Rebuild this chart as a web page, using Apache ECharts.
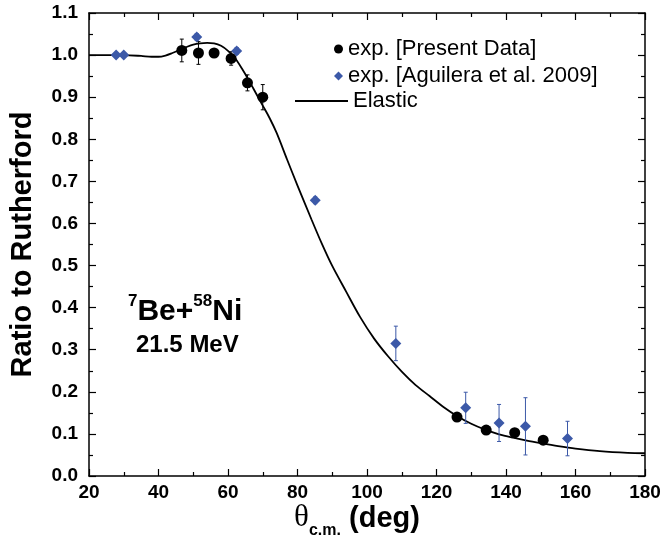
<!DOCTYPE html>
<html>
<head>
<meta charset="utf-8">
<script src="https://cdn.jsdelivr.net/npm/echarts@6/dist/echarts.min.js"></script>
<style>
html,body{margin:0;padding:0;background:#fff;}
#c{width:663px;height:537px;}
</style>
</head>
<body>
<div id="c"></div>
<script>
// ---- data ----
const presentTheta = [46.7, 51.5, 56.0, 60.9, 65.6, 70.0, 125.9, 134.3, 142.5, 150.7];
const presentRatio = [1.011, 1.005, 1.005, 0.992, 0.934, 0.900, 0.140, 0.109, 0.103, 0.085];
const presentErr   = [0.027, 0.027, 0.010, 0.016, 0.019, 0.030, 0.008, 0.005, 0.005, 0.005];

const aguileraTheta = [27.8, 30.0, 51.0, 62.5, 85.1, 108.3, 128.4, 138.0, 145.6, 157.7];
const aguileraRatio = [1.000, 1.000, 1.043, 1.010, 0.655, 0.315, 0.162, 0.126, 0.118, 0.089];
const aguileraErr   = [0.004, 0.004, 0.008, 0.008, 0.008, 0.041, 0.037, 0.044, 0.068, 0.041];

const elasticTheta = [20, 25, 30, 35, 38, 40, 42, 44, 46, 48, 50, 52, 54, 56, 58, 60, 62, 64, 66, 68, 70, 72, 74, 77, 80, 84, 87, 90, 94, 98, 102, 106, 110, 114, 118, 122, 126, 130, 134, 138, 142, 146, 150, 155, 160, 167, 175, 180];
const elasticRatio = [1.000, 1.000, 1.000, 0.998, 0.996, 0.996, 0.999, 1.005, 1.012, 1.019, 1.025, 1.028, 1.029, 1.028, 1.022, 1.010, 0.993, 0.968, 0.940, 0.910, 0.880, 0.850, 0.815, 0.752, 0.690, 0.610, 0.552, 0.499, 0.438, 0.378, 0.327, 0.285, 0.248, 0.216, 0.190, 0.164, 0.142, 0.124, 0.110, 0.099, 0.091, 0.084, 0.078, 0.071, 0.065, 0.059, 0.055, 0.054];

const xTickValues = [20, 40, 60, 80, 100, 120, 140, 160, 180];
const yTickValues = [0.0, 0.1, 0.2, 0.3, 0.4, 0.5, 0.6, 0.7, 0.8, 0.9, 1.0, 1.1];

const namePresent = 'exp. [Present Data]';
const nameAguilera = 'exp. [Aguilera et al. 2009]';
const nameElastic = 'Elastic';

// ---- build ----
const FONT = "'Liberation Sans', Arial, Helvetica, sans-serif";
const BLUE = '#3c59a8';
const zip = (a, b) => a.map((v, i) => [v, b[i]]);
const zip3 = (a, b, c) => a.map((v, i) => [v, b[i], c[i]]);

function errorBars(color) {
  return function (params, api) {
    const x = api.value(0), y = api.value(1), e = api.value(2);
    const t = api.coord([x, y + e]);
    const b = api.coord([x, y - e]);
    const cap = 2;
    const st = { stroke: color, lineWidth: 1 };
    return {
      type: 'group',
      children: [
        { type: 'line', shape: { x1: t[0], y1: t[1], x2: b[0], y2: b[1] }, style: st },
        { type: 'line', shape: { x1: t[0] - cap, y1: t[1], x2: t[0] + cap, y2: t[1] }, style: st },
        { type: 'line', shape: { x1: b[0] - cap, y1: b[1], x2: b[0] + cap, y2: b[1] }, style: st }
      ]
    };
  };
}

const axisCommon = {
  axisLine: { show: true, onZero: false, lineStyle: { color: '#000', width: 1.5 } },
  axisTick: { show: true, inside: true, length: 7, lineStyle: { color: '#000', width: 1.2 } },
  minorTick: { show: true, splitNumber: 2, length: 4, lineStyle: { color: '#000', width: 1.2 } },
  splitLine: { show: false },
  minorSplitLine: { show: false }
};

const xMin = xTickValues[0], xMax = xTickValues[xTickValues.length - 1];
const xInt = xTickValues[1] - xTickValues[0];
const yMin = yTickValues[0], yMax = yTickValues[yTickValues.length - 1];
const yInt = 0.1;

const chart = echarts.init(document.getElementById('c'), null, { renderer: 'canvas' });
chart.setOption({
  backgroundColor: '#fff',
  animation: false,
  textStyle: { fontFamily: FONT },
  grid: { left: 89, right: 18, top: 13, bottom: 61, outerBoundsMode: 'none', containLabel: false },
  legend: [
    {
      data: [namePresent, nameAguilera],
      orient: 'vertical',
      left: 329, top: 31,
      itemWidth: 9, itemHeight: 9, itemGap: 1,
      textStyle: { fontFamily: FONT, fontSize: 22, color: '#000', lineHeight: 26 },
      selectedMode: false
    },
    {
      data: [{ name: nameElastic, icon: 'rect' }],
      left: 290, top: 83,
      itemWidth: 53, itemHeight: 2,
      textStyle: { fontFamily: FONT, fontSize: 22, color: '#000', lineHeight: 26 },
      selectedMode: false
    }
  ],
  xAxis: [
    Object.assign({}, axisCommon, {
      type: 'value', position: 'bottom', min: xMin, max: xMax, interval: xInt,
      axisLabel: { show: true, margin: 7, fontFamily: FONT, fontSize: 19, fontWeight: 'bold', color: '#000' },
      name: '{th|θ}{sub|c.m.}{b| (deg)}',
      nameLocation: 'middle', nameGap: 25, nameMoveOverlap: false,
      nameTextStyle: {
        padding: [0, 20, 0, 0],
        rich: {
          th: { fontFamily: "'Liberation Serif', 'Times New Roman', serif", fontSize: 31, color: '#000', verticalAlign: 'bottom', lineHeight: 32 },
          sub: { fontFamily: FONT, fontSize: 16, fontWeight: 'bold', color: '#000', verticalAlign: 'bottom', lineHeight: 32, padding: [0, 0, -6, 0] },
          b: { fontFamily: FONT, fontSize: 29, fontWeight: 'bold', color: '#000', verticalAlign: 'bottom', lineHeight: 32 }
        }
      }
    }),
    Object.assign({}, axisCommon, {
      type: 'value', position: 'top', min: xMin, max: xMax, interval: xInt,
      axisLabel: { show: false }
    })
  ],
  yAxis: [
    Object.assign({}, axisCommon, {
      type: 'value', position: 'left', min: yMin, max: yMax, interval: yInt,
      axisLabel: { show: true, margin: 11, fontFamily: FONT, fontSize: 19, fontWeight: 'bold', color: '#000',
        formatter: v => v.toFixed(1) },
      name: 'Ratio to Rutherford',
      nameLocation: 'middle', nameGap: 52, nameRotate: 90, nameMoveOverlap: false,
      nameTextStyle: { fontFamily: FONT, fontSize: 29, fontWeight: 'bold', color: '#000' }
    }),
    Object.assign({}, axisCommon, {
      type: 'value', position: 'right', min: yMin, max: yMax, interval: yInt,
      axisLabel: { show: false }
    })
  ],
  graphic: [
    {
      type: 'text', left: 128, top: 293,
      style: {
        text: '{sup|7}{big|Be+}{sup|58}{big|Ni}',
        rich: {
          sup: { fontFamily: FONT, fontSize: 17, fontWeight: 'bold', fill: '#000', verticalAlign: 'top', lineHeight: 34, padding: [0, 0, 16, 0] },
          big: { fontFamily: FONT, fontSize: 30, fontWeight: 'bold', fill: '#000', verticalAlign: 'bottom', lineHeight: 34 }
        }
      }
    },
    {
      type: 'text', left: 136, top: 333,
      style: { text: '21.5 MeV', fontFamily: FONT, fontSize: 24, fontWeight: 'bold', fill: '#000' }
    }
  ],
  series: [
    {
      name: nameElastic, type: 'line', xAxisIndex: 0, yAxisIndex: 0,
      data: zip(elasticTheta, elasticRatio),
      smooth: 0.3,
      showSymbol: false, symbol: 'none',
      lineStyle: { color: '#000', width: 1.8 },
      itemStyle: { color: '#000' },
      z: 2
    },
    {
      name: 'errPresent', type: 'custom', xAxisIndex: 0, yAxisIndex: 0,
      renderItem: errorBars('#000'),
      data: zip3(presentTheta, presentRatio, presentErr),
      z: 3
    },
    {
      name: 'errAguilera', type: 'custom', xAxisIndex: 0, yAxisIndex: 0,
      renderItem: errorBars(BLUE),
      data: zip3(aguileraTheta, aguileraRatio, aguileraErr),
      z: 3
    },
    {
      name: namePresent, type: 'scatter', xAxisIndex: 0, yAxisIndex: 0,
      data: zip(presentTheta, presentRatio),
      symbol: 'circle', symbolSize: 11,
      itemStyle: { color: '#000', opacity: 1 },
      z: 5
    },
    {
      name: nameAguilera, type: 'scatter', xAxisIndex: 0, yAxisIndex: 0,
      data: zip(aguileraTheta, aguileraRatio),
      symbol: 'diamond', symbolSize: 11,
      itemStyle: { color: BLUE, opacity: 1 },
      z: 5
    }
  ]
});
</script>
</body>
</html>
